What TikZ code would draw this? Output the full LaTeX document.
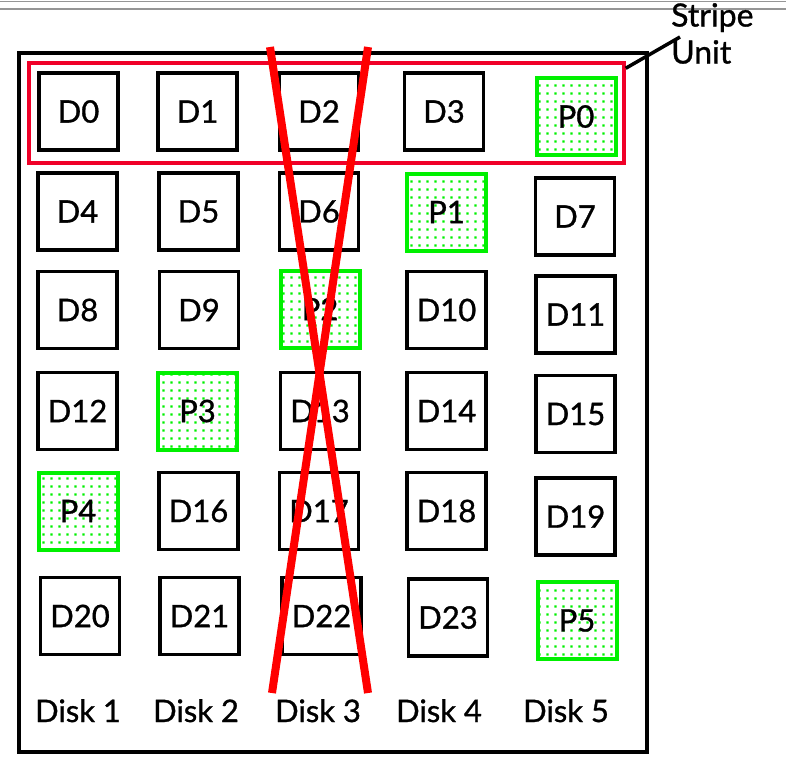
\documentclass[tikz,border=0pt]{standalone}
\usepackage{fontspec}
\setmainfont{Lato}[FakeBold=1]
\usetikzlibrary{patterns.meta}
\definecolor{pgreen}{RGB}{0,240,0}
\definecolor{stripered}{RGB}{240,0,40}
\definecolor{xred}{RGB}{255,0,0}
\definecolor{rulegray}{RGB}{150,150,150}
\tikzdeclarepattern{
  name=gdots,
  type=uncolored,
  bottom left={(0pt,0pt)},
  top right={(8pt,8pt)},
  tile size={(8pt,8pt)},
  code={\fill (2.75pt,2.75pt) rectangle (5.25pt,5.25pt);}
}
\begin{document}
\begin{tikzpicture}[x=1pt,y=-1pt,
  lbl/.style={font=\fontsize{31}{37}\selectfont, inner sep=0pt},
  dbox/.style={draw=black, line width=3.5pt, minimum width=79pt, minimum height=77pt,
    inner sep=0pt, font=\fontsize{31}{37}\selectfont},
  pbox/.style={dbox, draw=pgreen, line width=4pt, pattern={gdots}, pattern color=pgreen},
  frame/.style={draw=black, line width=4pt, inner sep=0pt},
  stripebox/.style={draw=stripered, line width=3.5pt, inner sep=0pt},
  cross/.style={draw=xred, line width=8pt},
  leader/.style={draw=black, line width=3.5pt}]
\useasboundingbox (0,0) rectangle (786,769);
% top rules
\coordinate (r1a) at (0,1.5); \coordinate (r1b) at (786,1.5);
\coordinate (r2a) at (0,9); \coordinate (r2b) at (786,9);
\draw[rulegray, line width=1.5pt] (r1a) -- (r1b);
\draw[rulegray, line width=1.5pt] (r2a) -- (r2b);
% outer frame
\node[frame, minimum width=628pt, minimum height=699pt] (array) at (333,402.5) {};
% stripe unit box
\node[stripebox, minimum width=595pt, minimum height=100pt] (stripe) at (326.5,113) {};
% row 1
\node[dbox] (d0) at (78.5,111.5) {D0};
\node[dbox] (d1) at (197.5,111.5) {D1};
\node[dbox] (d2) at (319,111.5) {D2};
\node[dbox] (d3) at (444,111.5) {D3};
\node[pbox] (p0) at (576,116.5) {P0};
% row 2
\node[dbox] (d4) at (77.5,211.5) {D4};
\node[dbox] (d5) at (198.5,211.5) {D5};
\node[dbox] (d6) at (319,211.5) {D6};
\node[pbox] (p1) at (446.5,212) {P1};
\node[dbox] (d7) at (575,216.5) {D7};
% row 3
\node[dbox] (d8) at (77.5,310) {D8};
\node[dbox] (d9) at (199,310) {D9};
\node[pbox] (p2) at (320,309) {P2};
\node[dbox] (d10) at (446.5,310) {D10};
\node[dbox] (d11) at (575.5,314.5) {D11};
% row 4
\node[dbox] (d12) at (77.5,411) {D12};
\node[pbox] (p3) at (197.5,411) {P3};
\node[dbox] (d13) at (320,411) {D13};
\node[dbox] (d14) at (446.5,411) {D14};
\node[dbox] (d15) at (575.5,414) {D15};
% row 5
\node[pbox] (p4) at (78,511) {P4};
\node[dbox] (d16) at (198.5,511) {D16};
\node[dbox] (d17) at (319,511) {D17};
\node[dbox] (d18) at (446.5,511) {D18};
\node[dbox] (d19) at (575.5,516.5) {D19};
% row 6
\node[dbox] (d20) at (80,616) {D20};
\node[dbox] (d21) at (199.5,616) {D21};
\node[dbox] (d22) at (321.5,616) {D22};
\node[dbox] (d23) at (448,617.5) {D23};
\node[pbox] (p5) at (577,620.5) {P5};
% disk labels
\node[lbl, anchor=base] (k1) at (78,722) {Disk 1};
\node[lbl, anchor=base] (k2) at (196,722) {Disk 2};
\node[lbl, anchor=base] (k3) at (318,722) {Disk 3};
\node[lbl, anchor=base] (k4) at (439,722) {Disk 4};
\node[lbl, anchor=base] (k5) at (566,722) {Disk 5};
% failed disk cross
\coordinate (xa1) at (270,47); \coordinate (xa2) at (368,693);
\coordinate (xb1) at (368,47); \coordinate (xb2) at (272,693);
\draw[cross] (xa1) -- (xa2);
\draw[cross] (xb1) -- (xb2);
% stripe unit label
\node[lbl, font=\fontsize{32}{37}\selectfont, anchor=north west, align=left] (su) at (671,3) {Stripe\\Unit};
\coordinate (lead) at (680,37);
\draw[leader] ([yshift=-7pt]stripe.north east) -- (lead);
\end{tikzpicture}
\end{document}
